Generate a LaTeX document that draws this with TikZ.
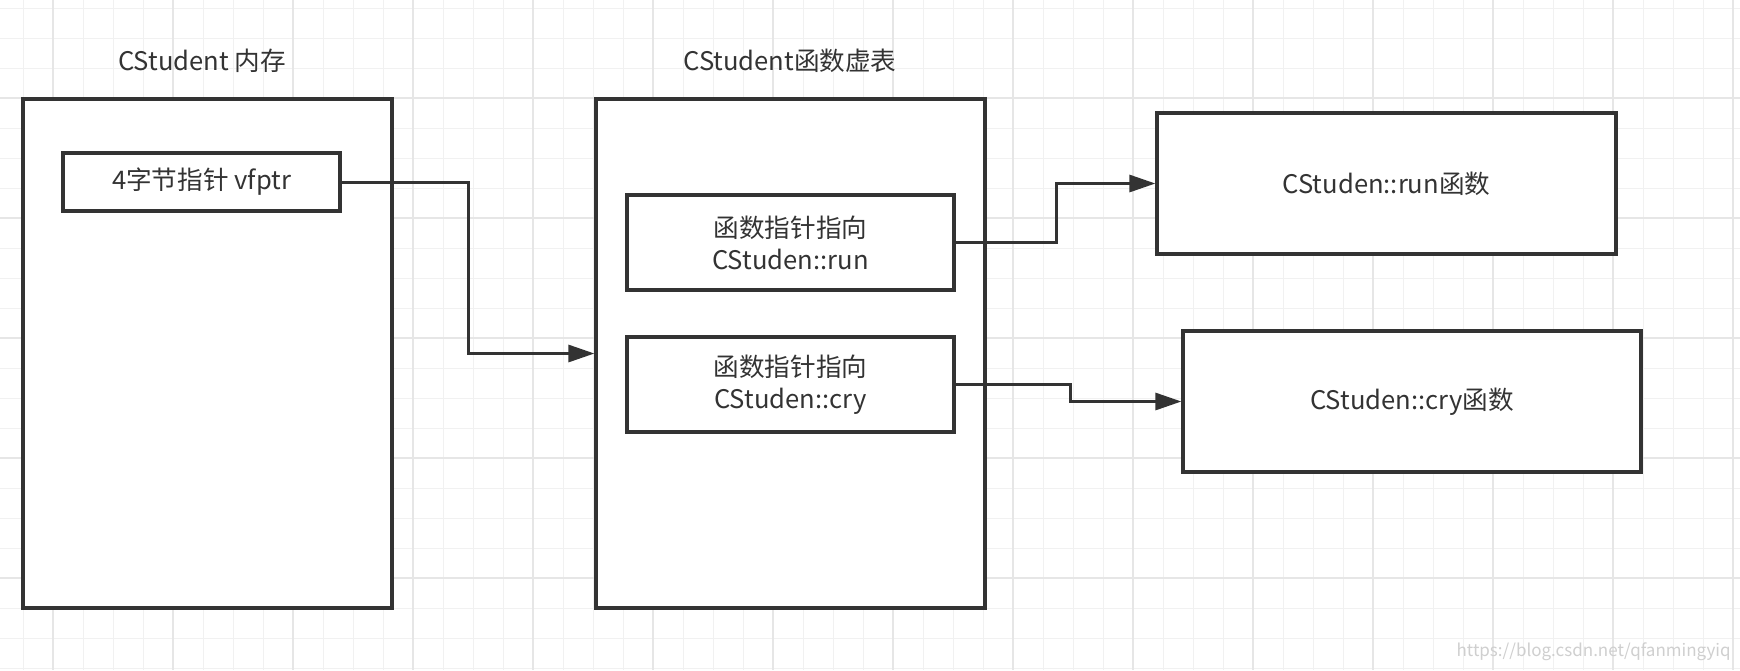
\documentclass[tikz,border=0pt]{standalone}
\usepackage{fontspec}
\usepackage{tikz}
\usetikzlibrary{arrows.meta}
\newfontfamily\cjk{Noto Sans CJK SC}
\definecolor{inkgray}{HTML}{333333}
\definecolor{gridminor}{HTML}{F1F1F1}
\definecolor{gridmajor}{HTML}{E6E6E6}
\definecolor{markgray}{HTML}{CFCFCF}
\tikzset{
	box/.style={draw=inkgray, line width=1.6pt, fill=white, inner sep=0pt, align=center, text=inkgray, font=\cjk\fontsize{12.8}{16}\selectfont},
	title/.style={text=inkgray, inner sep=0pt, font=\cjk\fontsize{12.8}{16}\selectfont},
	conn/.style={draw=inkgray, line width=1.5pt, -{Triangle[length=13pt,width=8.5pt]}}
}

\begin{document}
\begin{tikzpicture}[x=0.5pt, y=-0.5pt]
		%%%%% START %%%%%
		
		\fill[white] (0, 0) rectangle (1740, 670);
		\useasboundingbox (0, 0) rectangle (1740, 670);
		
		% grid
		\foreach \gx in {23, 53, ..., 1740}
			\draw[line width=0.5pt, color=gridminor] (\gx, 0) -- (\gx, 670);
		\foreach \gy in {8, 38, ..., 670}
			\draw[line width=0.5pt, color=gridminor] (0, \gy) -- (1740, \gy);
		\foreach \gx in {53, 173, ..., 1740}
			\draw[line width=0.8pt, color=gridmajor] (\gx, 0) -- (\gx, 670);
		\foreach \gy in {98, 218, ..., 670}
			\draw[line width=0.8pt, color=gridmajor] (0, \gy) -- (1740, \gy);
		
		% object memory
		\node[title] (memTitle) at (202, 61) {CStudent 内存};
		\node[box, minimum width=184.5pt, minimum height=254.5pt] (mem) at (207.5, 353.5) {};
		\node[box, minimum width=138.5pt, minimum height=29pt] (vfptr) at (201.5, 182) {4字节指针 vfptr};
		
		% virtual table
		\node[title] (vtTitle) at (790, 61) {CStudent函数虚表};
		\node[box, minimum width=194.5pt, minimum height=254.5pt] (vtbl) at (790.5, 353.5) {};
		\node[box, minimum width=163.5pt, minimum height=47.5pt] (runPtr) at (790.5, 242.5) {函数指针指向\\CStuden::run};
		\node[box, minimum width=163.5pt, minimum height=47.5pt] (cryPtr) at (790.5, 384.5) {函数指针指向\\CStuden::cry};
		
		% functions
		\node[box, minimum width=229.5pt, minimum height=70.5pt] (runFn) at (1386.5, 183.5) {CStuden::run函数};
		\node[box, minimum width=229pt, minimum height=70.5pt] (cryFn) at (1412, 401.5) {CStuden::cry函数};
		
		\draw[conn] (vfptr.east) -- ++(127, 0) |- (vtbl.west);
		\draw[conn] (runPtr.east) -- ++(101, 0) |- (runFn.west);
		\draw[conn] (cryPtr.east) -- ++(115, 0) |- (cryFn.west);
		
		\node[text=markgray, inner sep=0pt, anchor=east, font=\cjk\fontsize{8.5}{10}\selectfont] (mark) at (1731, 652) {https://blog.csdn.net/qfanmingyiq};
		
		%%%%% END %%%%%
	\end{tikzpicture}
\end{document}
